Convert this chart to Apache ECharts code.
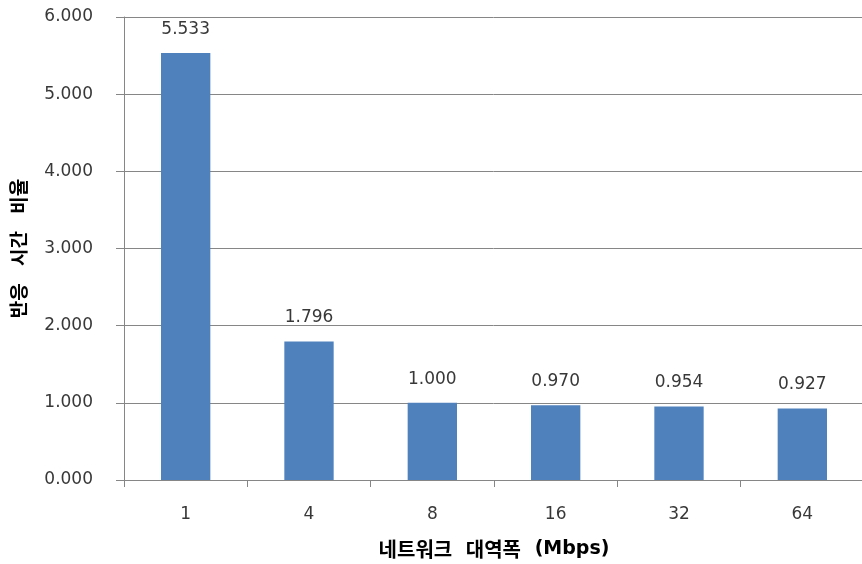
<!DOCTYPE html>
<html>
<head>
<meta charset="utf-8">
<script src="https://cdn.jsdelivr.net/npm/echarts@6/dist/echarts.min.js"></script>
<style>
  html, body { margin: 0; padding: 0; background: #fff; }
  #chart { width: 862px; height: 564px; }
</style>
</head>
<body>
<div id="chart"></div>
<script>
// Response time ratio by network bandwidth
const categories = ['1', '4', '8', '16', '32', '64'];
const ratios = [5.533, 1.796, 1.000, 0.970, 0.954, 0.927];
const yTitle = '반응    시간    비율';
const xTitleKo = '네트워크   대역폭';
const xTitleUnit = '(Mbps)';

const axisColor = '#868686';
const textColor = '#383838';
const numFont = '"DejaVu Sans", sans-serif';
const titleFont = '"Noto Sans CJK KR", sans-serif';

const chart = echarts.init(document.getElementById('chart'));
chart.setOption({
  animation: false,
  backgroundColor: '#ffffff',
  textStyle: { fontFamily: numFont },
  grid: {
    left: 124, top: 17, width: 740, height: 463,
    containLabel: false,
    outerBoundsMode: 'none'
  },
  xAxis: {
    type: 'category',
    data: categories,
    name: '{ko|' + xTitleKo + '}   {unit|' + xTitleUnit + '}',
    nameLocation: 'middle',
    nameGap: 59,
    nameTextStyle: {
      fontSize: 20, fontWeight: 'bold', color: '#000', fontFamily: titleFont,
      rich: {
        ko: { fontSize: 20, fontWeight: 'bold', color: '#000', fontFamily: titleFont },
        unit: { fontSize: 19, fontWeight: 'bold', color: '#000', fontFamily: numFont }
      }
    },
    axisLine: { lineStyle: { color: axisColor, width: 1 } },
    axisTick: { show: true, length: 7, alignWithLabel: false, lineStyle: { color: axisColor } },
    axisLabel: { color: textColor, fontSize: 17, margin: 26, fontFamily: numFont },
    splitLine: { show: false }
  },
  yAxis: {
    type: 'value',
    min: 0,
    max: 6,
    interval: 1,
    name: yTitle,
    nameLocation: 'middle',
    nameGap: 96,
    nameRotate: 90,
    nameTextStyle: { fontSize: 19, fontWeight: 'bold', color: '#000', fontFamily: titleFont },
    axisLine: { show: true, lineStyle: { color: axisColor, width: 1 } },
    axisTick: { show: true, length: 8, lineStyle: { color: axisColor } },
    axisLabel: {
      color: textColor,
      fontSize: 17,
      margin: 31,
      fontFamily: numFont,
      formatter: v => v.toFixed(3)
    },
    splitLine: { show: true, lineStyle: { color: axisColor, width: 1 } }
  },
  series: [{
    type: 'bar',
    data: ratios,
    barWidth: '40%',
    itemStyle: { color: '#4F81BD' },
    label: {
      show: true,
      position: 'top',
      distance: 15,
      color: textColor,
      fontSize: 17,
      fontFamily: numFont,
      formatter: p => p.value.toFixed(3)
    }
  }]
});
</script>
</body>
</html>
